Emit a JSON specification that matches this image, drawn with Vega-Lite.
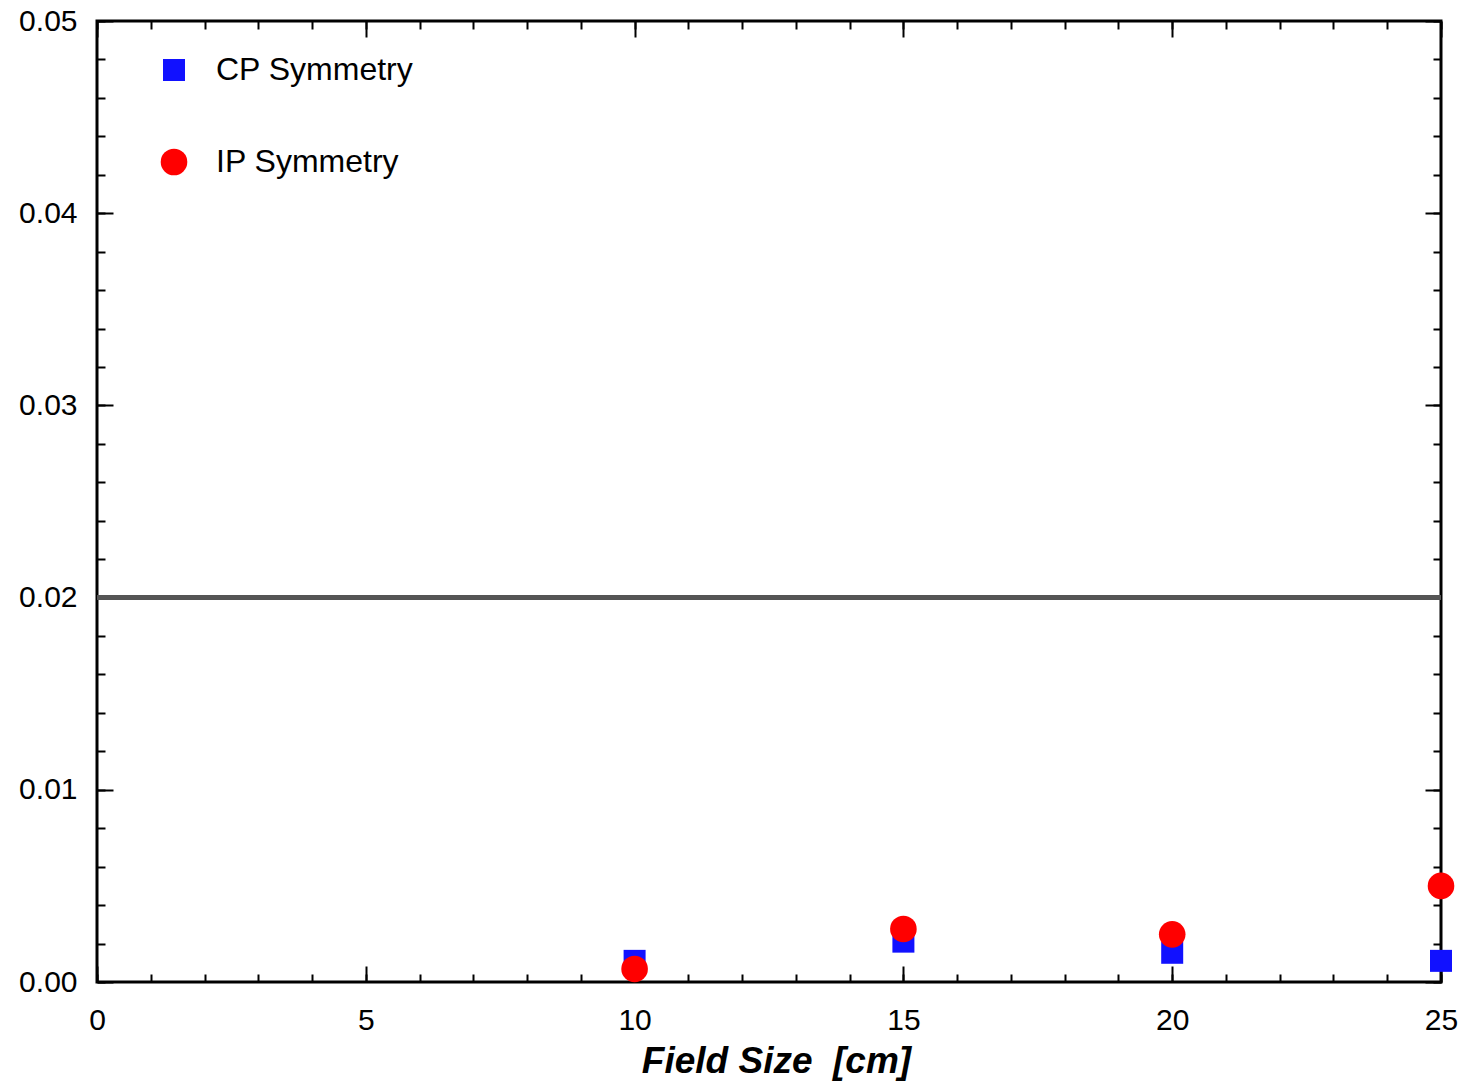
{
  "$schema": "https://vega.github.io/schema/vega-lite/v6.json",
  "width": 1344,
  "height": 961,
  "autosize": "none",
  "padding": {"left": 97, "top": 21, "right": 24, "bottom": 101},
  "background": "white",
  "config": {
    "view": {"stroke": "black", "strokeWidth": 3},
    "font": "Liberation Sans",
    "axis": {"grid": false, "domain": false, "tickColor": "black", "tickWidth": 2, "labelColor": "black", "labelFont": "Liberation Sans", "labelFontSize": 30, "labelFlush": false, "labelOverlap": false}
  },
  "data": {"values": [
    {"fs": 10, "v": 0.0011, "series": "CP Symmetry"},
    {"fs": 15, "v": 0.0021, "series": "CP Symmetry"},
    {"fs": 20, "v": 0.00152, "series": "CP Symmetry"},
    {"fs": 25, "v": 0.0011, "series": "CP Symmetry"},
    {"fs": 10, "v": 0.00068, "series": "IP Symmetry"},
    {"fs": 15, "v": 0.00276, "series": "IP Symmetry"},
    {"fs": 20, "v": 0.00248, "series": "IP Symmetry"},
    {"fs": 25, "v": 0.005, "series": "IP Symmetry"}
  ]},
  "layer": [
    {
      "mark": {"type": "rule", "color": "#555555", "strokeWidth": 4},
      "encoding": {
        "y": {"datum": 0.02, "type": "quantitative", "scale": {"domain": [0, 0.05], "nice": false}, "axis": null}
      }
    },
    {
      "mark": {"type": "point", "filled": true, "opacity": 1, "strokeWidth": 0},
      "encoding": {
        "x": {"field": "fs", "type": "quantitative", "scale": {"domain": [0, 25], "nice": false, "zero": false},
          "axis": {"orient": "bottom", "values": [0, 5, 10, 15, 20, 25], "ticks": false, "labelPadding": 23,
            "title": "Field Size\u00a0 [cm]", "titleX": 679, "titleFont": "Liberation Sans", "titleFontSize": 37, "titleFontWeight": "bold", "titleFontStyle": "italic", "titleColor": "black", "titlePadding": 8}},
        "y": {"field": "v", "type": "quantitative", "scale": {"domain": [0, 0.05], "nice": false},
          "axis": {"orient": "left", "values": [0, 0.01, 0.02, 0.03, 0.04, 0.05], "format": ".2f", "ticks": false, "labelPadding": 20, "title": null}},
        "color": {"field": "series", "type": "nominal", "scale": {"domain": ["CP Symmetry", "IP Symmetry"], "range": ["#1111ff", "#ff0000"]},
          "legend": {"orient": "none", "legendX": 61, "legendY": 33, "title": null, "labelFontSize": 32, "labelFont": "Liberation Sans", "labelColor": "black", "labelLimit": 0, "rowPadding": 60, "labelOffset": 26, "padding": 0}},
        "shape": {"field": "series", "type": "nominal", "scale": {"domain": ["CP Symmetry", "IP Symmetry"], "range": ["square", "circle"]},
          "legend": {"orient": "none", "legendX": 61, "legendY": 33, "title": null, "labelFontSize": 32, "labelFont": "Liberation Sans", "labelColor": "black", "labelLimit": 0, "rowPadding": 60, "labelOffset": 26, "padding": 0}},
        "size": {"field": "series", "type": "nominal", "scale": {"domain": ["CP Symmetry", "IP Symmetry"], "range": [484, 707]},
          "legend": {"orient": "none", "legendX": 61, "legendY": 33, "title": null, "labelFontSize": 32, "labelFont": "Liberation Sans", "labelColor": "black", "labelLimit": 0, "rowPadding": 60, "labelOffset": 26, "padding": 0}}
      }
    },
    {
      "mark": {"type": "point", "opacity": 0},
      "encoding": {
        "x": {"field": "fs", "type": "quantitative", "scale": {"domain": [0, 25], "nice": false, "zero": false},
          "axis": {"orient": "bottom", "values": [0, 5, 10, 15, 20, 25], "labels": false, "tickSize": -16, "title": null}},
        "y": {"field": "v", "type": "quantitative", "scale": {"domain": [0, 0.05], "nice": false},
          "axis": {"orient": "left", "values": [0, 0.01, 0.02, 0.03, 0.04, 0.05], "labels": false, "tickSize": -16, "title": null}}
      }
    },
    {
      "mark": {"type": "point", "opacity": 0},
      "encoding": {
        "x": {"field": "fs", "type": "quantitative", "scale": {"domain": [0, 25], "nice": false, "zero": false},
          "axis": {"orient": "bottom", "values": [0,1,2,3,4,5,6,7,8,9,10,11,12,13,14,15,16,17,18,19,20,21,22,23,24,25], "labels": false, "tickSize": -8, "title": null}},
        "y": {"field": "v", "type": "quantitative", "scale": {"domain": [0, 0.05], "nice": false},
          "axis": {"orient": "left", "values": [0,0.002,0.004,0.006,0.008,0.01,0.012,0.014,0.016,0.018,0.02,0.022,0.024,0.026,0.028,0.03,0.032,0.034,0.036,0.038,0.04,0.042,0.044,0.046,0.048,0.05], "labels": false, "tickSize": -8, "title": null}}
      }
    },
    {
      "mark": {"type": "point", "opacity": 0},
      "encoding": {
        "x": {"field": "fs", "type": "quantitative", "scale": {"domain": [0, 25], "nice": false, "zero": false},
          "axis": {"orient": "top", "values": [0, 5, 10, 15, 20, 25], "labels": false, "tickSize": -16, "title": null}},
        "y": {"field": "v", "type": "quantitative", "scale": {"domain": [0, 0.05], "nice": false},
          "axis": {"orient": "right", "values": [0, 0.01, 0.02, 0.03, 0.04, 0.05], "labels": false, "tickSize": -16, "title": null}}
      }
    },
    {
      "mark": {"type": "point", "opacity": 0},
      "encoding": {
        "x": {"field": "fs", "type": "quantitative", "scale": {"domain": [0, 25], "nice": false, "zero": false},
          "axis": {"orient": "top", "values": [0,1,2,3,4,5,6,7,8,9,10,11,12,13,14,15,16,17,18,19,20,21,22,23,24,25], "labels": false, "tickSize": -8, "title": null}},
        "y": {"field": "v", "type": "quantitative", "scale": {"domain": [0, 0.05], "nice": false},
          "axis": {"orient": "right", "values": [0,0.002,0.004,0.006,0.008,0.01,0.012,0.014,0.016,0.018,0.02,0.022,0.024,0.026,0.028,0.03,0.032,0.034,0.036,0.038,0.04,0.042,0.044,0.046,0.048,0.05], "labels": false, "tickSize": -8, "title": null}}
      }
    }
  ],
  "resolve": {"axis": {"x": "independent", "y": "independent"}}
}
